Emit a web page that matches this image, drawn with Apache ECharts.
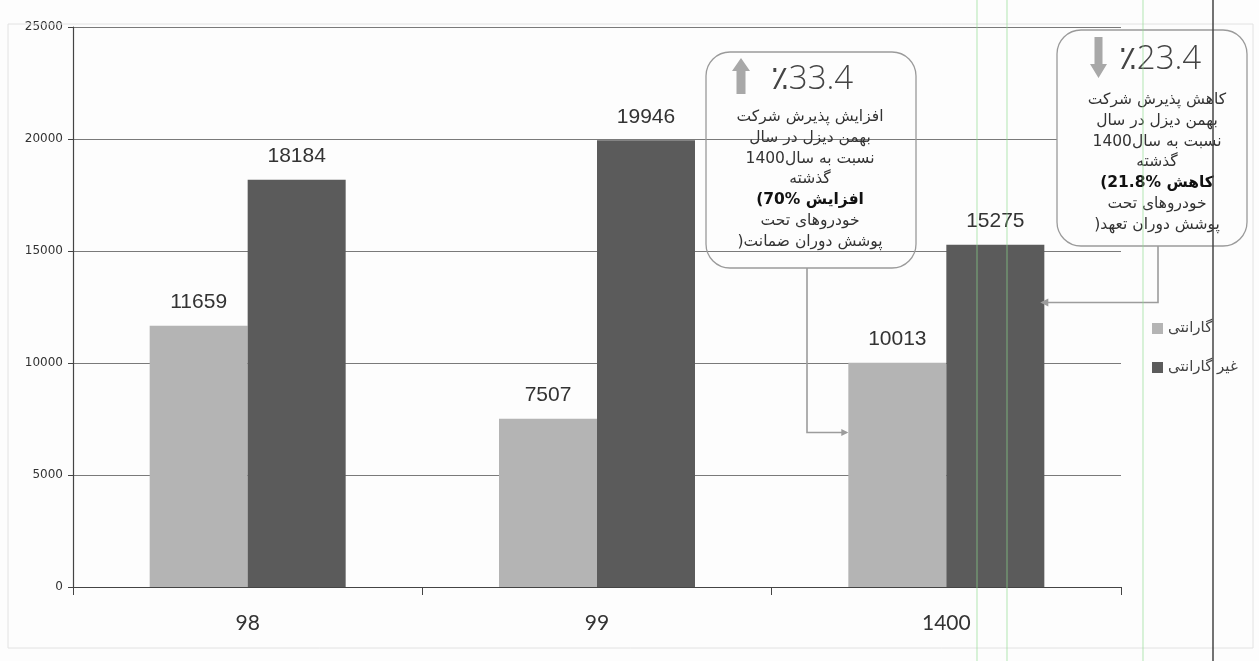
<!DOCTYPE html>
<html><head><meta charset="utf-8">
<script src="https://cdn.jsdelivr.net/npm/echarts@6/dist/echarts.min.js"></script>
<style>html,body{margin:0;padding:0;background:#fdfdfd}#c{width:1259px;height:661px}</style>
</head><body><div id="c"></div>
<script>
// ---- data ----
const categories = ['98', '99', '1400'];
const seriesNames = ['گارانتی', 'غیر گارانتی'];
const guaranteeValues = [11659, 7507, 10013];
const nonGuaranteeValues = [18184, 19946, 15275];
const yMin = 0, yMax = 25000, yStep = 5000;

// annotation lines: each line is a list of pieces in visual left-to-right order
const increaseHeadline = ['٪', '33.4'];
const increaseLines = [
  ['افزایش پذیرش شرکت'],
  ['بهمن دیزل در سال'],
  ['1400', 'نسبت به سال'],
  ['گذشته'],
  ['(70% ', 'افزایش'],
  ['خودروهای تحت'],
  [')', 'پوشش دوران ضمانت']
];
const decreaseHeadline = ['٪', '23.4'];
const decreaseLines = [
  ['کاهش پذیرش شرکت'],
  ['بهمن دیزل در سال'],
  ['1400', 'نسبت به سال'],
  ['گذشته'],
  ['(21.8% ', 'کاهش'],
  ['خودروهای تحت'],
  [')', 'پوشش دوران تعهد']
];
const boldLineIndex = 4;

// ---- chart ----
const chart = echarts.init(document.getElementById('c'), null, {renderer: 'canvas'});
const BAR_W = 98;
const labelStyle = {show: true, position: 'top', distance: 13, fontFamily: 'Liberation Sans', fontSize: 21, color: '#333'};
const option = {
  backgroundColor: '#fdfdfd',
  animation: false,
  grid: {left: 73, right: 138, top: 27, bottom: 74, containLabel: false},
  legend: {
    orient: 'vertical', left: 1147, top: 316, itemGap: 24,
    itemWidth: 11, itemHeight: 11, icon: 'rect',
    textStyle: {fontFamily: 'DejaVu Sans', fontSize: 15, color: '#444'},
    data: seriesNames
  },
  xAxis: {
    type: 'category', data: categories,
    axisLine: {lineStyle: {color: '#444', width: 1.2}},
    axisTick: {show: true, length: 8, lineStyle: {color: '#444'}},
    axisLabel: {margin: 26, fontFamily: 'Lato', fontSize: 21, color: '#333'},
    splitLine: {show: false}
  },
  yAxis: {
    type: 'value', min: yMin, max: yMax, interval: yStep,
    axisLine: {show: true, lineStyle: {color: '#444', width: 1.2}},
    axisTick: {show: true, length: 5, lineStyle: {color: '#444'}},
    axisLabel: {margin: 10, fontFamily: 'DejaVu Sans', fontSize: 12, color: '#333', formatter: v => String(v)},
    splitLine: {show: true, lineStyle: {color: '#7a7a7a', width: 1}}
  },
  series: [
    {name: seriesNames[0], type: 'bar', data: guaranteeValues, barWidth: BAR_W, barGap: '0%', itemStyle: {color: '#b4b4b4'}, label: labelStyle},
    {name: seriesNames[1], type: 'bar', data: nonGuaranteeValues, barWidth: BAR_W, barGap: '0%', itemStyle: {color: '#5b5b5b'}, label: labelStyle}
  ]
};
chart.setOption(option);

// ---- annotations ----
const measureCtx = document.createElement('canvas').getContext('2d');
function pieceLine(pieces, cx, cy, family, size, weight, fill, z) {
  const font = weight + ' ' + size + 'px "' + family + '"';
  measureCtx.font = font;
  const widths = pieces.map(p => measureCtx.measureText(p).width);
  const total = widths.reduce((a, b) => a + b, 0);
  let x = cx - total / 2;
  return pieces.map((p, i) => {
    const el = {
      type: 'text', z: z,
      style: {text: p, x: x, y: cy, align: 'left', verticalAlign: 'middle', fontFamily: family, fontSize: size, fontWeight: weight, fill: fill}
    };
    x += widths[i];
    return el;
  });
}
function block(lines, cx, y0, step) {
  const out = [];
  lines.forEach((pieces, i) => {
    const bold = i === boldLineIndex;
    out.push(...pieceLine(pieces, cx, y0 + i * step, 'DejaVu Sans', 15.5, bold ? 'bold' : 'normal', bold ? '#111' : '#333', 20));
  });
  return out;
}

const lastCat = categories[categories.length - 1];
const catX = chart.convertToPixel({xAxisIndex: 0}, lastCat);
const grayLeft = catX - BAR_W;
const darkRight = catX + BAR_W;
const y1 = chart.convertToPixel({yAxisIndex: 0}, 6900);
const y2 = chart.convertToPixel({yAxisIndex: 0}, 12700);

const connStyle = {stroke: '#9c9c9c', lineWidth: 1.6, fill: null};
const graphics = [
  {type: 'rect', z: 1, silent: true, shape: {x: 8, y: 24, width: 1245, height: 624}, style: {fill: null, stroke: '#e2e2e2', lineWidth: 1}},
  // box 1 (increase)
  {type: 'rect', z: 10, shape: {x: 706, y: 52, width: 210, height: 216, r: 24}, style: {fill: null, stroke: '#9a9a9a', lineWidth: 1.3}},
  {type: 'polygon', z: 20, shape: {points: [[741, 58], [750, 71], [745.5, 71], [745.5, 94], [736.5, 94], [736.5, 71], [732, 71]]}, style: {fill: '#a8a8a8'}},
  ...pieceLine(increaseHeadline, 812, 80, 'Open Sans', 33, 'lighter', '#444', 20),
  ...block(increaseLines, 810, 117, 20.8),
  {type: 'polyline', z: 15, shape: {points: [[807, 268], [807, y1], [grayLeft - 2, y1]]}, style: connStyle},
  {type: 'polygon', z: 15, shape: {points: [[grayLeft, y1], [grayLeft - 7, y1 - 3.5], [grayLeft - 7, y1 + 3.5]]}, style: {fill: '#9c9c9c'}},
  // box 2 (decrease)
  {type: 'rect', z: 10, shape: {x: 1057, y: 30, width: 190, height: 216, r: 24}, style: {fill: '#fdfdfd', stroke: '#9a9a9a', lineWidth: 1.3}},
  {type: 'polygon', z: 20, shape: {points: [[1094.5, 37], [1102.5, 37], [1102.5, 64], [1107, 64], [1098.5, 78], [1090, 64], [1094.5, 64]]}, style: {fill: '#a8a8a8'}},
  ...pieceLine(decreaseHeadline, 1160, 60, 'Open Sans', 33, 'lighter', '#444', 20),
  ...block(decreaseLines, 1157, 100, 20.8),
  {type: 'polyline', z: 15, shape: {points: [[1158, 246], [1158, y2], [darkRight - 2, y2]]}, style: connStyle},
  {type: 'polygon', z: 15, shape: {points: [[darkRight - 4, y2], [darkRight + 4, y2 - 4], [darkRight + 4, y2 + 4]]}, style: {fill: '#9c9c9c'}},
  // scan guide lines
  {type: 'line', z: 30, silent: true, shape: {x1: 977, y1: 0, x2: 977, y2: 661}, style: {stroke: 'rgba(140,220,140,0.55)', lineWidth: 1.2}},
  {type: 'line', z: 30, silent: true, shape: {x1: 1007, y1: 0, x2: 1007, y2: 661}, style: {stroke: 'rgba(140,220,140,0.55)', lineWidth: 1.2}},
  {type: 'line', z: 30, silent: true, shape: {x1: 1143, y1: 0, x2: 1143, y2: 661}, style: {stroke: 'rgba(140,220,140,0.55)', lineWidth: 1.2}},
  {type: 'line', z: 30, silent: true, shape: {x1: 1213, y1: 0, x2: 1213, y2: 661}, style: {stroke: '#444', lineWidth: 1.5}}
];
chart.setOption({graphic: graphics});
</script>
</body></html>
